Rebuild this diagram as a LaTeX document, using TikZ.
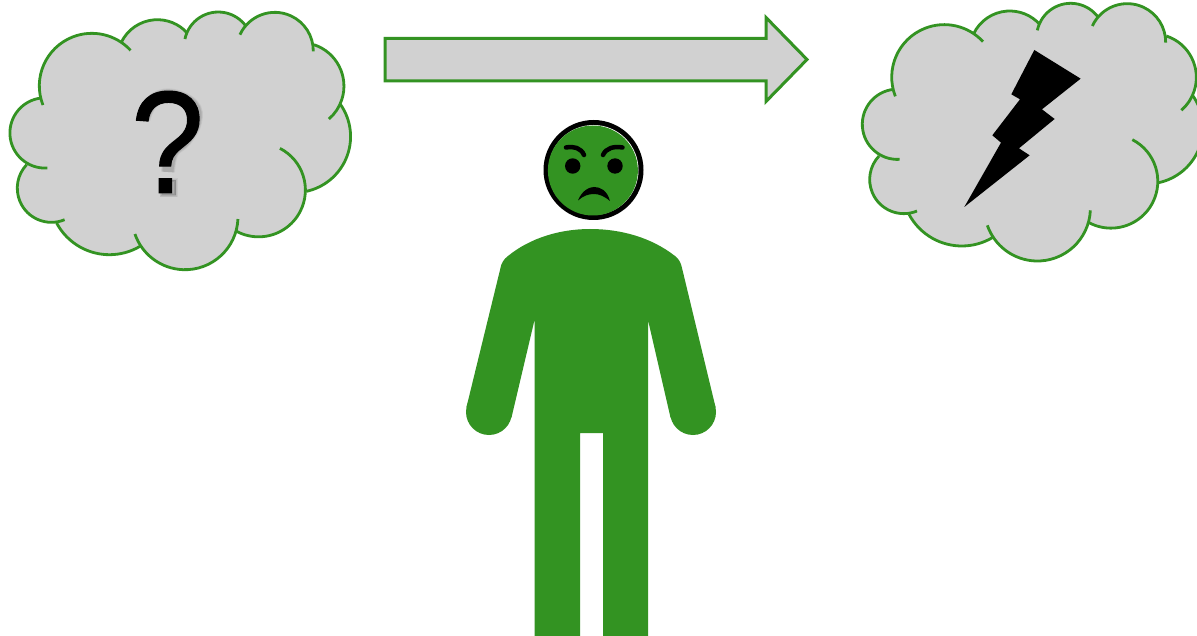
\documentclass[tikz,border=0pt]{standalone}
\usepackage{fontspec}
\setmainfont{Liberation Sans}
\newfontfamily\qmfont[FakeBold=0.7]{Liberation Sans}
\definecolor{grn}{HTML}{339322}
\definecolor{cloudgray}{HTML}{D1D1D1}
\tikzset{
  cloudline/.style={draw=grn,line width=2.8pt,line cap=butt},
  cloudfill/.style={fill=cloudgray},
  bodyfill/.style={fill=grn},
  arrowshape/.style={fill=cloudgray,draw=grn,line width=3pt,miter limit=10},
  facefeat/.style={draw=black,line width=4.5pt,line cap=round},
}
\newcommand{\bump}[7]{%
  \pgfmathsetmacro{\qbx}{(#4-#2)/100}%
  \pgfmathsetmacro{\qby}{-(#5-#3)/100}%
  \pgfmathsetmacro{\qcx}{(#6-#2)/100}%
  \pgfmathsetmacro{\qcy}{-(#7-#3)/100}%
  \pgfmathsetmacro{\qd}{2*(\qbx*\qcy-\qby*\qcx)}%
  \pgfmathsetmacro{\qbb}{\qbx*\qbx+\qby*\qby}%
  \pgfmathsetmacro{\qcc}{\qcx*\qcx+\qcy*\qcy}%
  \pgfmathsetmacro{\qux}{(\qcy*\qbb-\qby*\qcc)/\qd}%
  \pgfmathsetmacro{\quy}{(\qbx*\qcc-\qcx*\qbb)/\qd}%
  \pgfmathsetmacro{\qr}{sqrt(\qux*\qux+\quy*\quy)}%
  \pgfmathsetmacro{\qa}{atan2(-\quy,-\qux)}%
  \pgfmathsetmacro{\qe}{atan2(\qcy-\quy,\qcx-\qux)}%
  \pgfmathsetmacro{\qdelta}{-mod(mod(\qa-\qe,360)+360,360)}%
  \pgfmathsetmacro{\qrr}{\qr*100/3}%
  \path[#1] (#2/3,-#3/3) arc[start angle=\qa,delta angle=\qdelta,radius=\qrr pt];
}
\newcommand{\cloudarcs}[1]{%
  \bump{#1}{127}{316}{190}{125}{390}{152}
  \bump{#1}{362}{128}{470}{60}{560}{100}
  \bump{#1}{553}{118}{650}{37}{735}{78}
  \bump{#1}{718}{105}{825}{38}{938}{155}
  \bump{#1}{940}{135}{1030}{260}{985}{358}
  \bump{#1}{1018}{312}{1030}{490}{917}{575}
  \bump{#1}{838}{446}{890}{650}{708}{695}
  \bump{#1}{712}{658}{550}{810}{403}{703}
  \bump{#1}{418}{740}{325}{765}{168}{670}
  \bump{#1}{192}{660}{50}{565}{78}{495}
  \bump{#1}{140}{505}{28}{395}{122}{295}
}
\newcommand{\cloudshape}{%
  \path[fill=cloudgray,draw=cloudgray,line width=1.5pt] (125/3,-295/3)--(362/3,-128/3)--(560/3,-100/3)--(735/3,-78/3)--(938/3,-135/3)--(1018/3,-312/3)--(917/3,-575/3)--(708/3,-695/3)--(418/3,-740/3)--(168/3,-670/3)--(78/3,-495/3)--cycle;
  \cloudarcs{cloudfill}
  \cloudarcs{cloudline}
}
\begin{document}
\begin{tikzpicture}[x=1pt,y=-1pt]
\clip (0,0) rectangle (1197,636);
\path[fill=white] (0,0) rectangle (1197,636);
% left cloud
\begin{scope}[x=1pt,y=1pt,shift={(0.6pt,0.3pt)}]
  \cloudshape
\end{scope}
% right cloud
\begin{scope}[x=1pt,y=1pt,shift={(853pt,9pt)}]
  \cloudshape
\end{scope}
% question mark shadow
\foreach \w/\o in {14/0.05,12.5/0.06,11/0.08}{
\draw[black,opacity=\o,line width=\w pt,shift={(2,2)}] plot[smooth,tension=0.7] coordinates {(141.5,117)(150,100)(168,93.5)(190,103)(193,120)(183,138)(170,150)(166,170)};
\draw[black,fill=black,opacity=\o,line width=\w pt-10pt,shift={(1.5,1.5)}] (160,179) rectangle (174,194);
}
\node[font=\qmfont\fontsize{146pt}{146pt}\selectfont,text=black,inner sep=0pt,xscale=0.9] (qm) at (167.5,142) {?};
% lightning
\begin{scope}[shift={(850,0)},x=0.3333pt,y=-0.3333pt]
\fill[black] (553,150)--(692,236)--(576,328)--(614,357)--(507,445)--(539,466)--(343,621)--(453,428)--(427,406)--(510,298)--(484,283)--cycle;
\end{scope}
% arrow
\path[arrowshape] (385,38.5)--(766,38.5)--(766,17.5)--(807,59.5)--(766,101.5)--(766,81)--(385,81)--cycle;
% face
\fill[black] (593.5,170) circle[radius=50];
\fill[white] (593.5,170) circle[radius=45];
\fill[grn] (592.9,170.5) circle[radius=45];
\fill[black] (572.7,166) circle[radius=7.7];
\fill[black] (615,166) circle[radius=7.7];
\draw[facefeat] (566,147.5) .. controls (574,146) and (581,148) .. (584,155);
\draw[facefeat] (622.5,147.5) .. controls (614,146) and (606,148) .. (603,155);
\fill[black] (578,200.5) .. controls (582,190) and (590,187) .. (594,187) .. controls (600,187) and (607,190) .. (610,201) .. controls (604,196) and (599,194) .. (594,194) .. controls (588,194) and (583,196) .. (578,200.5) -- cycle;
% body
\fill[bodyfill] (500,270) .. controls (501,263) and (504,259) .. (508,256)
  .. controls (530,238) and (560,229) .. (590,229)
  .. controls (622,229) and (652,238) .. (675,256)
  .. controls (679,259) and (681,263) .. (682,268)
  -- (715.5,407) -- (670.5,417.5)
  -- (648,320) -- (648,636) -- (603,636) -- (603,433) -- (580,433) -- (580,636) -- (534.5,636) -- (534.5,320)
  -- (511.5,417.5) -- (466.5,407) -- cycle;
\fill[bodyfill] (693,412) circle[radius=23];
\fill[bodyfill] (489,412) circle[radius=23];
\end{tikzpicture}
\end{document}
